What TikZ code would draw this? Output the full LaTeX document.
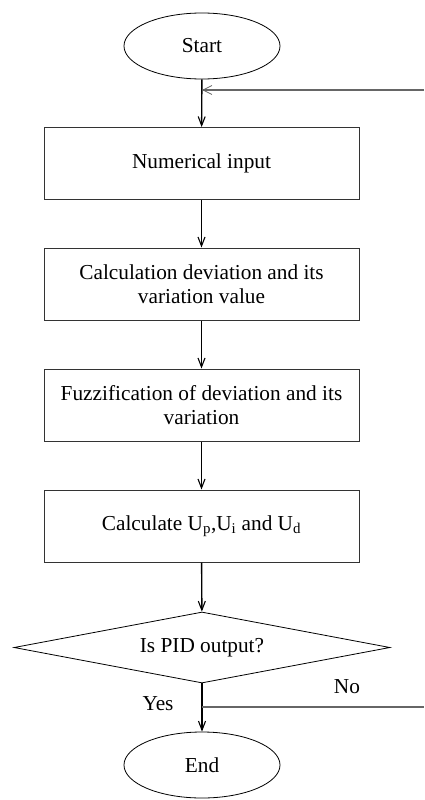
\documentclass[tikz,border=0pt]{standalone}
\usepackage{fontspec}
\setmainfont{Liberation Serif}
\usetikzlibrary{shapes.geometric,arrows.meta}
\begin{document}
\begin{tikzpicture}[x=1pt,y=-1pt,
  every node/.style={font=\fontsize{21.3}{24.5}\selectfont},
  term/.style={ellipse,draw=black,line width=0.8pt,minimum width=156pt,minimum height=66pt,inner sep=0pt},
  procbox/.style={rectangle,draw=black!80,line width=1pt,minimum width=315pt,minimum height=72pt,inner sep=0pt,align=center},
  decis/.style={diamond,draw=black,line width=0.8pt,aspect=5.3,minimum width=376pt,minimum height=71pt,inner sep=0pt},
  flow/.style={line width=1.4pt,-{Straight Barb[length=9pt,width=7pt,line width=1.1pt]}},
  back/.style={line width=1.1pt,draw=black!60},
  backarr/.style={back,-{Straight Barb[length=9pt,width=9pt,line width=0.8pt]}},
  lbl/.style={inner sep=0pt}]
\useasboundingbox (0,0) rectangle (424,800);
\node[term] (start) at (202,46) {Start};
\node[procbox] (n1) at (201.5,163.5) {Numerical input};
\node[procbox] (n2) at (201.5,284) {Calculation deviation and its\\variation value};
\node[procbox] (n3) at (201.5,405) {Fuzzification of deviation and its\\variation};
\node[procbox] (n4) at (201.5,526) {Calculate U\textsubscript{p},U\textsubscript{i} and U\textsubscript{d}};
\node[decis] (dec) at (202,647.5) {Is PID output?};
\node[term] (end) at (202,765) {End};
\coordinate (fbR) at (424,90);
\coordinate (fbJ) at (202,90);
\coordinate (noJ) at (202,707);
\coordinate (noR) at (424,707);
\draw[flow] (start) -- (n1);
\draw[flow] (n1) -- (n2);
\draw[flow] (n2) -- (n3);
\draw[flow] (n3) -- (n4);
\draw[flow] (n4) -- (dec);
\draw[flow] (dec) -- (end);
\draw[backarr] (fbR) -- (fbJ);
\draw[back] (noJ) -- (noR);
\node[lbl] (yes) at (158,704) {Yes};
\node[lbl] (no) at (347,687) {No};
\end{tikzpicture}
\end{document}
